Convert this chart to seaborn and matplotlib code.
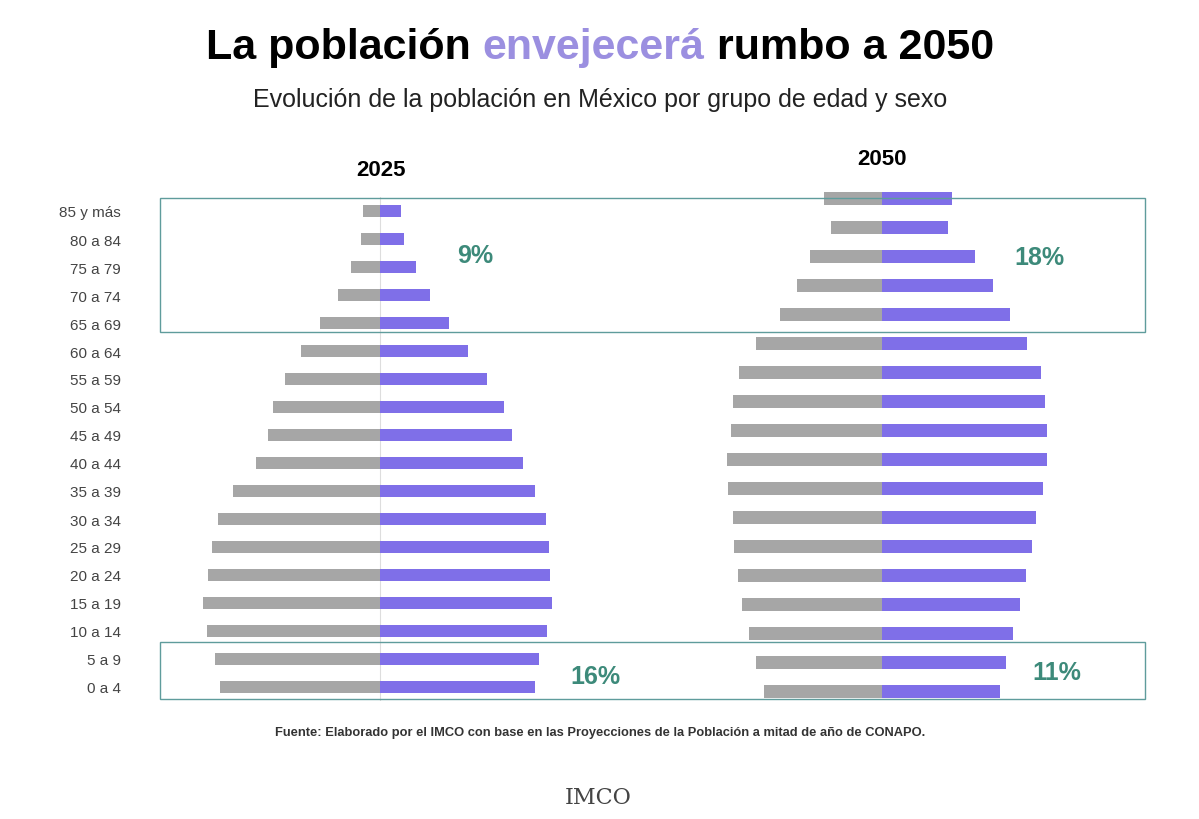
import matplotlib
matplotlib.use("Agg")
import matplotlib.pyplot as plt
import seaborn as sns
import pandas as pd
from matplotlib.patches import Rectangle

groups = ["85 y más","80 a 84","75 a 79","70 a 74","65 a 69","60 a 64","55 a 59","50 a 54",
          "45 a 49","40 a 44","35 a 39","30 a 34","25 a 29","20 a 24","15 a 19","10 a 14","5 a 9","0 a 4"]
men_2025 = [17,19,29,42,60,79,95,107,112,124,147,162,168,172,177,173,165,160]
women_2025 = [21,24,36,50,69,88,107,124,132,143,155,166,169,170,172,167,159,155]
men_2050 = [58,51,72,85,102,126,143,149,151,155,154,149,148,144,140,133,126,118]
women_2050 = [70,66,93,111,128,145,159,163,165,165,161,154,150,144,138,131,124,118]

plt.rcParams['font.family'] = ['Liberation Sans', 'DejaVu Sans']
W, H = 1199, 820
fig = plt.figure(figsize=(W/100, H/100), dpi=100)
GRAY = "#a6a6a6"; PURPLE = "#7f6fe8"; GREEN = "#3d8a7a"; BOX = "#5f9c9c"

def ax_at(x0, x1, y0, y1):
    return fig.add_axes([x0/W, 1-y1/H, (x1-x0)/W, (y1-y0)/H])

def pyramid(ax, men, women, show_labels):
    df = pd.DataFrame({"g": groups, "m": [-v for v in men], "w": women})
    sns.barplot(data=df, y="g", x="m", color=GRAY, orient="h", width=0.45, ax=ax, saturation=1)
    sns.barplot(data=df, y="g", x="w", color=PURPLE, orient="h", width=0.45, ax=ax, saturation=1)
    ax.set_xlim(-220, 220); ax.set_ylim(17.5, -0.5)
    ax.set_xlabel(""); ax.set_ylabel("")
    ax.set_xticks([])
    for s in ax.spines.values(): s.set_visible(False)
    if show_labels:
        ax.tick_params(axis="y", length=0, labelsize=11, labelcolor="#444444", pad=28)
    else:
        ax.set_yticks([])

axL = ax_at(160, 600, 198, 702)
pyramid(axL, men_2025, women_2025, True)
axL.axvline(0, color="#dddddd", lw=0.8, zorder=0)
axR = ax_at(662, 1102, 185.5, 706.5)
pyramid(axR, men_2050, women_2050, False)

fig.patches.append(Rectangle((160/W, 1-333/H), (1145-160)/W, (333-199)/H, transform=fig.transFigure,
                             fill=False, edgecolor=BOX, lw=1))
fig.patches.append(Rectangle((160/W, 1-700/H), (1145-160)/W, (700-643)/H, transform=fig.transFigure,
                             fill=False, edgecolor=BOX, lw=1))

def t(x, y, s, **kw):
    fig.text(x/W, 1-y/H, s, **kw)

t(475, 256, "9%", color=GREEN, fontsize=18, fontweight="bold", ha="center", va="center")
t(1039, 258, "18%", color=GREEN, fontsize=18, fontweight="bold", ha="center", va="center")
t(595, 677, "16%", color=GREEN, fontsize=18, fontweight="bold", ha="center", va="center")
t(1057, 673, "11%", color=GREEN, fontsize=18, fontweight="bold", ha="center", va="center")
t(381, 171, "2025", fontsize=16, fontweight="bold", ha="center", va="center")
t(882, 160, "2050", fontsize=16, fontweight="bold", ha="center", va="center")

parts = [("La población ", "black"), ("envejecerá", "#9b8fe0"), (" rumbo a 2050", "black")]
fig.canvas.draw()
r = fig.canvas.get_renderer()
objs = []; total = 0
for s, c in parts:
    o = fig.text(0, 1-48/H, s, color=c, fontsize=31, fontweight="bold", va="center")
    w = o.get_window_extent(r).width
    objs.append((o, w)); total += w
x = 600 - total/2
for o, w in objs:
    o.set_x(x/W); x += w

t(600, 100, "Evolución de la población en México por grupo de edad y sexo", fontsize=18, ha="center", va="center", color="#222222")
t(600, 733, "Fuente: Elaborado por el IMCO con base en las Proyecciones de la Población a mitad de año de CONAPO.",
  fontsize=9.3, fontweight="bold", ha="center", va="center", color="#333333")
t(598, 798, "IMCO", fontsize=16, family="DejaVu Serif", ha="center", va="center", color="#444444")

fig.savefig("out.png", dpi=100, facecolor="white")
